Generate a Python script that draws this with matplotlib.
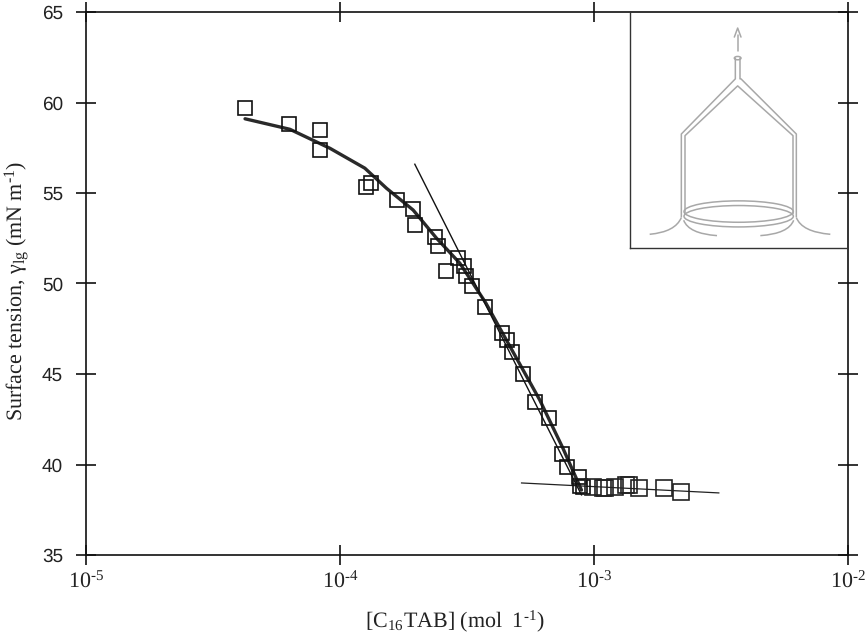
import numpy as np
import matplotlib
matplotlib.use("Agg")
import matplotlib.pyplot as plt
from matplotlib.patches import Ellipse, PathPatch
from matplotlib.path import Path

plt.rcParams['mathtext.fontset'] = 'custom'
plt.rcParams['mathtext.rm'] = 'Liberation Serif'
plt.rcParams['mathtext.it'] = 'Liberation Serif:italic'
plt.rcParams['mathtext.bf'] = 'Liberation Serif:bold'
plt.rcParams['mathtext.default'] = 'rm'
plt.rcParams['text.hinting'] = 'none'
plt.rcParams['text.hinting_factor'] = 1

conc = [4.22e-5, 6.28e-5, 8.32e-5, 8.32e-5, 1.264e-4, 1.322e-4, 1.674e-4, 1.941e-4, 1.971e-4,
        2.357e-4, 2.429e-4, 2.618e-4, 2.904e-4, 3.075e-4, 3.123e-4, 3.315e-4, 3.72e-4, 4.33e-4,
        4.53e-4, 4.74e-4, 5.26e-4, 5.84e-4, 6.67e-4, 7.50e-4, 7.85e-4, 8.73e-4, 8.80e-4, 9.07e-4,
        9.91e-4, 1.088e-3, 1.112e-3, 1.210e-3, 1.345e-3, 1.378e-3, 1.508e-3, 1.888e-3, 2.216e-3]
gamma = [59.72, 58.81, 58.46, 57.39, 55.34, 55.54, 54.59, 54.09, 53.23,
         52.58, 52.07, 50.67, 51.42, 50.97, 50.42, 49.86, 48.70, 47.25,
         46.90, 46.19, 44.98, 43.48, 42.57, 40.56, 39.86, 39.30, 38.80, 38.75,
         38.75, 38.70, 38.70, 38.75, 38.85, 38.85, 38.68, 38.68, 38.50]

fit_conc = [4.22e-5, 6.34e-5, 9.12e-5, 1.252e-4, 1.524e-4, 1.94e-4, 2.40e-4, 2.965e-4, 3.75e-4,
            6.12e-4, 7.55e-4, 8.94e-4]
fit_gamma = [59.10, 58.52, 57.47, 56.37, 55.26, 54.06, 52.50, 51.12, 48.93, 43.57, 40.91, 38.59]

slope_conc = [1.97e-4, 8.94e-4]
slope_gamma = [56.59, 38.32]
plateau_conc = [5.19e-4, 3.11e-3]
plateau_gamma = [38.98, 38.43]

x_ticks = [1e-5, 1e-4, 1e-3, 1e-2]
x_tick_labels = [r'$10^{\text{-}5}$', r'$10^{\text{-}4}$', r'$10^{\text{-}3}$', r'$10^{\text{-}2}$']
y_ticks = [35, 40, 45, 50, 55, 60, 65]

W, H = 868, 636
fig = plt.figure(figsize=(W / 100, H / 100), dpi=100)
ax = fig.add_axes([86.4 / W, (H - 555) / H, (847.5 - 86.4) / W, (555 - 12) / H])
ax.set_xscale('log')
ax.set_xlim(1e-5, 1e-2)
ax.set_ylim(35, 65)
ax.set_xticks(x_ticks)
ax.set_xticklabels(x_tick_labels, fontsize=15.5, color='#222222')
ax.set_yticks(y_ticks)
ax.set_yticklabels([str(v) for v in y_ticks], fontsize=13.5, fontfamily='Liberation Sans', color='#222222')
ax.minorticks_off()
ax.tick_params(axis='both', which='major', direction='inout', length=15, width=1.2,
               top=True, right=True, color='#111111')
ax.tick_params(axis='x', pad=4)
ax.tick_params(axis='y', pad=9.4)
for s in ax.spines.values():
    s.set_linewidth(1.2)
    s.set_color('#111111')

# inset schematic, in its own sketch coordinates
ins = fig.add_axes([630 / W, (H - 248) / H, (847 - 630) / W, (248 - 12) / H], zorder=1)
ins.set_xlim(29, 680)
ins.set_ylim(743, 37)
ins.set_xticks([])
ins.set_yticks([])
ins.patch.set_alpha(0)
ins.spines['top'].set_visible(False)
ins.spines['right'].set_visible(False)
for k in ('left', 'bottom'):
    ins.spines[k].set_color('#333333')
    ins.spines[k].set_linewidth(1.0)

sketch = '#a8a8a8'
outlines = [
    ([183, 183, 345, 345], [650, 402, 237, 175]),
    ([194, 194, 352, 518, 518], [640, 407, 258, 407, 640]),
    ([359, 359, 362, 528, 528], [175, 237, 237, 402, 650]),
    ([352, 352], [155, 105]),
    ([342, 352, 362], [112, 85, 112]),
]
for xs, ys in outlines:
    ins.plot(xs, ys, color=sketch, lw=1.1, solid_capstyle='round')
menisci = [
    ((88, 702), (165, 695), (183, 652)),
    ((290, 706), (205, 700), (190, 660)),
    ((420, 706), (505, 700), (520, 660)),
    ((630, 702), (545, 695), (528, 652)),
]
for p0, p1, p2 in menisci:
    ins.add_patch(PathPatch(Path([p0, p1, p2], [Path.MOVETO, Path.CURVE3, Path.CURVE3]),
                            fill=False, edgecolor=sketch, lw=1.1))
for cy, h in ((634, 64), (648, 64)):
    ins.add_patch(Ellipse((355, cy), 328, h, fill=False, edgecolor=sketch, lw=1.1))
ins.add_patch(Ellipse((352, 175), 20, 10, fill=False, edgecolor=sketch, lw=1.1))

ax.plot(fit_conc, fit_gamma, color='#2a2a2a', lw=2.4, zorder=2, solid_capstyle='round')
ax.plot(slope_conc, slope_gamma, color='#111111', lw=1.0, zorder=2)
ax.plot(plateau_conc, plateau_gamma, color='#222222', lw=0.9, zorder=2)

split = 28
ax.plot(conc[:split], gamma[:split], ls='none', marker='s', ms=9.6, mfc='none', mec='#111111', mew=1.2, zorder=3)
ax.plot(conc[split:], gamma[split:], ls='none', marker='s', ms=11, mfc='none', mec='#222222', mew=1.2, zorder=3)

fig.text(455 / W, 1 - 621 / H, r'$\mathrm{[C_{16}TAB]\ (mol\ \ 1^{\text{-}1})}$', ha='center', va='center',
         fontsize=15.8, color='#222222')
fig.text(17 / W, 1 - 291 / H, r'Surface tension, $\gamma_{\mathrm{lg}}$ (mN m$^{\text{-}1}$)', rotation=90,
         ha='center', va='center', fontsize=16.1, fontfamily='Liberation Serif', color='#222222')

fig.savefig('out.png', dpi=100)
